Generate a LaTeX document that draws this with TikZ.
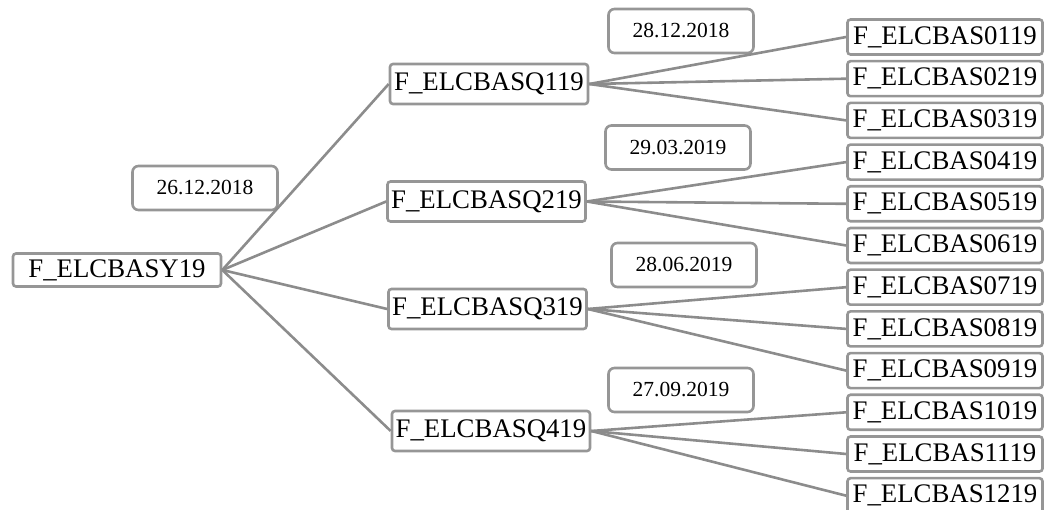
\documentclass[tikz,border=0pt]{standalone}
\usepackage{fontspec}
\setmainfont{Liberation Serif}
\usepackage{xcolor}
\usepackage{tikz}

\definecolor{boxgray}{RGB}{150,150,150}
\definecolor{linegray}{RGB}{140,140,140}

\begin{document}
\begin{tikzpicture}[x=1pt,y=-1pt,
    year/.style={draw=boxgray,line width=2.6pt,rounded corners=3pt,inner sep=0pt,
      minimum width=208pt,minimum height=33pt,font=\fontsize{26.8}{28}\selectfont},
    quarter/.style={year,minimum width=198pt,minimum height=40pt},
    leaf/.style={year,minimum width=195pt,minimum height=35pt},
    datebox/.style={draw=boxgray,line width=2.6pt,rounded corners=6pt,inner sep=0pt,
      minimum width=145pt,minimum height=44pt,font=\fontsize{21.5}{24}\selectfont},
    link/.style={draw=linegray,line width=2.6pt}]
      \clip (0,0) rectangle (1045,510);
      \node[year] (Y) at (117,270) {F\_ELCBASY19};
      \node[quarter] (Q1) at (489,84) {F\_ELCBASQ119};
      \node[quarter] (Q2) at (486.5,201.5) {F\_ELCBASQ219};
      \node[quarter] (Q3) at (487.5,309) {F\_ELCBASQ319};
      \node[quarter] (Q4) at (491,431) {F\_ELCBASQ419};
        % months
      \node[leaf] (S01) at (945,37) {F\_ELCBAS0119};
      \node[leaf] (S02) at (945,78.7) {F\_ELCBAS0219};
      \node[leaf] (S03) at (945,120.4) {F\_ELCBAS0319};
      \node[leaf] (S04) at (945,162.1) {F\_ELCBAS0419};
      \node[leaf] (S05) at (945,203.8) {F\_ELCBAS0519};
      \node[leaf] (S06) at (945,245.5) {F\_ELCBAS0619};
      \node[leaf] (S07) at (945,287.2) {F\_ELCBAS0719};
      \node[leaf] (S08) at (945,328.9) {F\_ELCBAS0819};
      \node[leaf] (S09) at (945,370.6) {F\_ELCBAS0919};
      \node[leaf] (S10) at (945,412.3) {F\_ELCBAS1019};
      \node[leaf] (S11) at (945,454) {F\_ELCBAS1119};
      \node[leaf] (S12) at (945,495.7) {F\_ELCBAS1219};
        % dates
      \node[datebox] (D0) at (205,188) {26.12.2018};
      \node[datebox] (D1) at (681,31) {28.12.2018};
      \node[datebox] (D2) at (678,147.5) {29.03.2019};
      \node[datebox] (D3) at (684,265) {28.06.2019};
      \node[datebox] (D4) at (681,390) {27.09.2019};
      \draw[link] (Y.east) -- (Q1.west);
      \draw[link] (Y.east) -- (Q2.west);
      \draw[link] (Y.east) -- (Q3.west);
      \draw[link] (Y.east) -- (Q4.west);
      \draw[link] (Q1.east) -- (S01.west);
      \draw[link] (Q1.east) -- (S02.west);
      \draw[link] (Q1.east) -- (S03.west);
      \draw[link] (Q2.east) -- (S04.west);
      \draw[link] (Q2.east) -- (S05.west);
      \draw[link] (Q2.east) -- (S06.west);
      \draw[link] (Q3.east) -- (S07.west);
      \draw[link] (Q3.east) -- (S08.west);
      \draw[link] (Q3.east) -- (S09.west);
      \draw[link] (Q4.east) -- (S10.west);
      \draw[link] (Q4.east) -- (S11.west);
      \draw[link] (Q4.east) -- (S12.west);
    \end{tikzpicture}
\end{document}
